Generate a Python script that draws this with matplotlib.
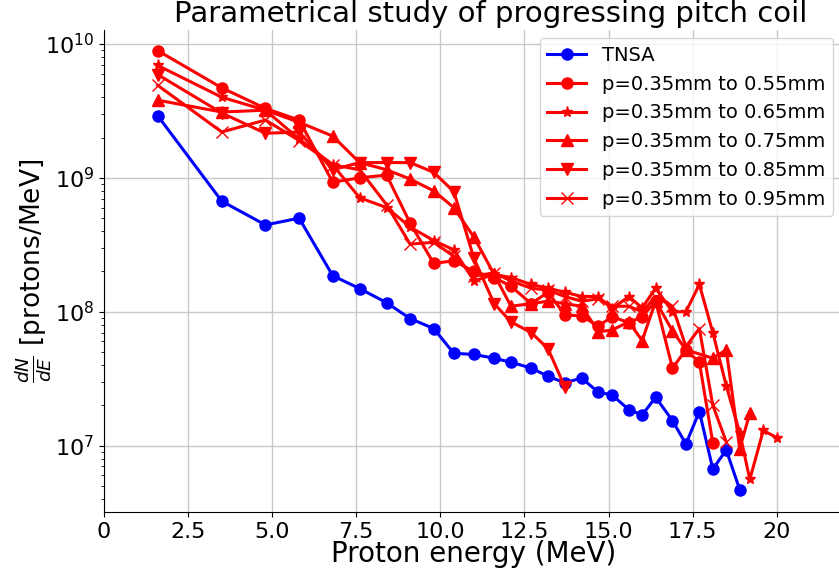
import matplotlib
matplotlib.use("Agg")
import matplotlib.pyplot as plt

# energies (MeV) and spectra dN/dE (protons/MeV)
e_tnsa = [1.6, 3.5, 4.8, 5.8, 6.8, 7.6, 8.4, 9.1, 9.8, 10.4, 11.0, 11.6, 12.1, 12.7,
          13.2, 13.7, 14.2, 14.7, 15.1, 15.6, 16.0, 16.4, 16.9, 17.3, 17.7, 18.1, 18.5, 18.9]
tnsa = [2.9e9, 6.7e8, 4.45e8, 5.0e8, 1.86e8, 1.49e8, 1.17e8, 8.9e7, 7.5e7, 4.9e7, 4.8e7, 4.5e7,
        4.2e7, 3.8e7, 3.3e7, 2.95e7, 3.2e7, 2.5e7, 2.4e7, 1.86e7, 1.7e7, 2.3e7, 1.54e7, 1.03e7,
        1.8e7, 6.7e6, 9.3e6, 4.7e6]

e_055 = e_tnsa[:26]
p055 = [8.9e9, 4.7e9, 3.3e9, 2.7e9, 9.3e8, 1.0e9, 1.05e9, 4.6e8, 2.3e8, 2.4e8, 2.0e8, 1.8e8,
        1.55e8, 1.15e8, 1.4e8, 9.5e7, 9.3e7, 7.8e7, 9.2e7, 8.3e7, 9.2e7, 1.2e8, 3.8e7, 5.2e7,
        4.2e7, 1.05e7]

e_065 = e_tnsa + [19.2, 19.6, 20.0]
p065 = [6.9e9, 4.0e9, 3.2e9, 1.95e9, 1.25e9, 7.1e8, 6.0e8, 4.3e8, 3.4e8, 2.9e8, 1.7e8, 1.9e8,
        1.8e8, 1.6e8, 1.5e8, 1.4e8, 1.3e8, 1.3e8, 1.05e8, 1.3e8, 1.07e8, 1.5e8, 1.0e8, 1.0e8,
        1.6e8, 7.0e7, 2.8e7, 1.25e7, 5.6e6, 1.3e7, 1.15e7]

e_075 = e_tnsa[:24] + [18.1, 18.5, 18.9, 19.2]
p075 = [3.8e9, 3.1e9, 3.2e9, 2.6e9, 2.05e9, 1.3e9, 1.15e9, 9.8e8, 8.0e8, 6.0e8, 3.6e8, 1.9e8,
        1.1e8, 1.15e8, 1.2e8, 1.15e8, 1.1e8, 7.1e7, 7.3e7, 8.4e7, 6.1e7, 1.2e8, 7.2e7, 5.2e7,
        4.5e7, 5.2e7, 9.5e6, 1.75e7]

e_085 = e_tnsa[:16]
p085 = [5.9e9, 3.05e9, 2.15e9, 2.2e9, 1.15e9, 1.3e9, 1.3e9, 1.3e9, 1.1e9, 7.9e8, 2.5e8, 1.15e8,
        8.4e7, 7.0e7, 5.3e7, 2.75e7]

e_095 = e_tnsa[:27]
p095 = [4.9e9, 2.2e9, 2.7e9, 1.9e9, 1.25e9, 1.15e9, 6.3e8, 3.2e8, 3.3e8, 2.6e8, 1.85e8, 1.95e8,
        1.7e8, 1.5e8, 1.45e8, 1.3e8, 1.2e8, 1.25e8, 1.1e8, 1.1e8, 1.0e8, 1.3e8, 1.1e8, 5.5e7,
        7.5e7, 2.0e7, 1.07e7]

xticks = [0, 2.5, 5.0, 7.5, 10.0, 12.5, 15.0, 17.5, 20]
xticklabels = ["0", "2.5", "5.0", "7.5", "10.0", "12.5", "15.0", "17.5", "20"]

fig = plt.figure(figsize=(8.39, 5.72), dpi=100)
ax = fig.add_axes([104 / 839, 60 / 572, 740 / 839, 482 / 572])

lw = 2.2
ax.plot(e_tnsa, tnsa, color="blue", marker="o", ms=8, lw=lw, label="TNSA")
ax.plot(e_055, p055, color="red", marker="o", ms=8, lw=lw, label="p=0.35mm to 0.55mm")
ax.plot(e_065, p065, color="red", marker="*", ms=8, lw=lw, label="p=0.35mm to 0.65mm")
ax.plot(e_075, p075, color="red", marker="^", ms=8, lw=lw, label="p=0.35mm to 0.75mm")
ax.plot(e_085, p085, color="red", marker="v", ms=8, lw=lw, label="p=0.35mm to 0.85mm")
ax.plot(e_095, p095, color="red", marker="x", ms=8, lw=lw, label="p=0.35mm to 0.95mm")

ax.set_yscale("log")
ax.set_xlim(0, 22)
ax.set_ylim(3.2e6, 1.27e10)
ax.set_xticks(xticks)
ax.set_xticklabels(xticklabels)
ax.tick_params(axis="both", labelsize=16)
ax.grid(True, color="#c8c8c8", lw=1)
ax.spines["top"].set_visible(False)
ax.spines["right"].set_visible(False)

ax.set_title("Parametrical study of progressing pitch coil", fontsize=21, x=0.523)
ax.set_xlabel("Proton energy (MeV)", fontsize=20, labelpad=-1)
ax.set_ylabel(r"$\frac{dN}{dE}$ [protons/MeV]", fontsize=19)
ax.yaxis.set_label_coords(-0.068, 0.5)
ax.legend(loc="upper right", bbox_to_anchor=(0.985, 0.983), borderaxespad=0, fontsize=14)

fig.savefig("out.png", dpi=100)
